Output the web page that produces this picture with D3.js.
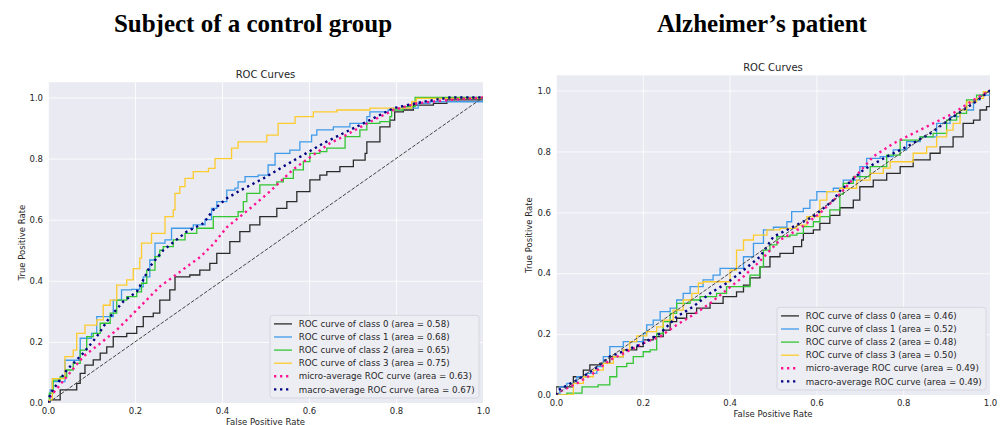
<!DOCTYPE html>
<html><head><meta charset="utf-8">
<script src="https://cdn.jsdelivr.net/npm/d3@7"></script>
<style>body{margin:0;background:#fff}svg{display:block}</style>
</head><body><svg id="c" width="1004" height="425"></svg>
<script>
// ---------- data ----------
const tickValues = [0, 0.2, 0.4, 0.6, 0.8, 1.0];
const tickLabels = ["0.0", "0.2", "0.4", "0.6", "0.8", "1.0"];
const seriesNames = ["ROC curve of class 0", "ROC curve of class 1", "ROC curve of class 2", "ROC curve of class 3", "micro-average ROC curve", "macro-average ROC curve"];
const seriesColors = ["#2b2b2b", "#3f9be9", "#33c633", "#fdcb2c", "#ff1493", "#000080"];
const aucControl = [0.58, 0.68, 0.65, 0.75, 0.63, 0.67];
const aucAlzheimer = [0.46, 0.52, 0.48, 0.50, 0.49, 0.49];

// Subject of a control group: [FPR, TPR]
const ctrlClass0 = [[0,0],[0.005,0.01],[0.028,0.043],[0.054,0.043],[0.066,0.064],[0.074,0.097],[0.085,0.124],[0.104,0.141],[0.12,0.163],[0.135,0.184],[0.15,0.217],[0.181,0.228],[0.204,0.25],[0.219,0.283],[0.242,0.294],[0.257,0.337],[0.28,0.37],[0.292,0.413],[0.326,0.419],[0.349,0.435],[0.372,0.457],[0.388,0.49],[0.418,0.528],[0.441,0.561],[0.464,0.583],[0.487,0.61],[0.526,0.637],[0.549,0.659],[0.572,0.692],[0.602,0.73],[0.625,0.746],[0.641,0.757],[0.671,0.774],[0.702,0.795],[0.729,0.817],[0.733,0.855],[0.748,0.855],[0.763,0.904],[0.786,0.926],[0.797,0.953],[0.817,0.959],[0.84,0.975],[0.886,0.981],[0.917,0.992],[1,1]];
const ctrlClass1 = [[0,0],[0.005,0.043],[0.01,0.07],[0.039,0.14],[0.074,0.212],[0.1,0.228],[0.112,0.283],[0.15,0.337],[0.169,0.37],[0.192,0.372],[0.211,0.38],[0.219,0.413],[0.234,0.468],[0.246,0.523],[0.269,0.534],[0.284,0.572],[0.319,0.572],[0.334,0.583],[0.361,0.6],[0.376,0.637],[0.388,0.659],[0.411,0.697],[0.43,0.703],[0.437,0.724],[0.453,0.741],[0.483,0.746],[0.506,0.779],[0.522,0.817],[0.556,0.828],[0.579,0.855],[0.606,0.877],[0.618,0.894],[0.656,0.904],[0.694,0.915],[0.733,0.937],[0.74,0.953],[0.782,0.959],[0.794,0.965],[0.851,0.981],[0.878,0.986],[1,1]];
const ctrlClass2 = [[0,0],[0.003,0.032],[0.012,0.075],[0.028,0.086],[0.043,0.108],[0.058,0.13],[0.074,0.173],[0.089,0.217],[0.104,0.228],[0.12,0.261],[0.143,0.294],[0.158,0.337],[0.181,0.348],[0.204,0.364],[0.215,0.392],[0.227,0.435],[0.246,0.479],[0.257,0.5],[0.265,0.512],[0.288,0.534],[0.315,0.555],[0.342,0.572],[0.372,0.572],[0.38,0.61],[0.426,0.61],[0.437,0.626],[0.449,0.659],[0.457,0.686],[0.48,0.686],[0.487,0.714],[0.526,0.724],[0.541,0.735],[0.564,0.763],[0.587,0.79],[0.602,0.817],[0.625,0.823],[0.641,0.834],[0.683,0.872],[0.717,0.894],[0.733,0.915],[0.763,0.921],[0.786,0.937],[0.79,0.959],[0.817,0.97],[0.844,1.0],[1,1]];
const ctrlClass3 = [[0,0],[0.003,0.01],[0.01,0.08],[0.03,0.08],[0.039,0.152],[0.05,0.152],[0.058,0.173],[0.066,0.228],[0.085,0.255],[0.104,0.255],[0.112,0.272],[0.127,0.32],[0.143,0.337],[0.158,0.386],[0.181,0.403],[0.196,0.44],[0.211,0.474],[0.215,0.523],[0.227,0.523],[0.238,0.555],[0.261,0.555],[0.269,0.61],[0.288,0.632],[0.292,0.686],[0.303,0.708],[0.315,0.735],[0.334,0.757],[0.369,0.768],[0.384,0.8],[0.415,0.8],[0.422,0.834],[0.437,0.855],[0.503,0.877],[0.529,0.915],[0.568,0.937],[0.61,0.953],[0.664,0.959],[0.74,0.965],[0.786,0.965],[0.836,0.986],[0.847,0.997],[1,1]];
const ctrlMicro = [[0,0],[0.005,0.02],[0.043,0.086],[0.081,0.152],[0.12,0.195],[0.158,0.239],[0.189,0.283],[0.219,0.326],[0.257,0.381],[0.288,0.413],[0.319,0.446],[0.35,0.478],[0.38,0.52],[0.411,0.575],[0.457,0.628],[0.51,0.692],[0.564,0.765],[0.61,0.812],[0.648,0.85],[0.679,0.872],[0.733,0.915],[0.794,0.959],[0.848,0.981],[0.924,0.992],[1,1]];
const ctrlMacro = [[0,0],[0.005,0.03],[0.043,0.108],[0.081,0.163],[0.112,0.217],[0.143,0.283],[0.173,0.332],[0.204,0.364],[0.219,0.403],[0.234,0.446],[0.25,0.474],[0.265,0.5],[0.319,0.561],[0.357,0.588],[0.38,0.632],[0.411,0.67],[0.441,0.695],[0.495,0.735],[0.541,0.774],[0.587,0.812],[0.633,0.85],[0.679,0.883],[0.733,0.921],[0.794,0.965],[0.863,0.986],[0.924,1],[1,1]];

// Alzheimer's patient: [FPR, TPR]
const alzClass0 = [[0,0],[0,0.027],[0.017,0.027],[0.04,0.06],[0.063,0.082],[0.078,0.099],[0.101,0.104],[0.124,0.126],[0.155,0.148],[0.186,0.159],[0.201,0.181],[0.224,0.192],[0.247,0.213],[0.263,0.241],[0.278,0.252],[0.301,0.268],[0.324,0.285],[0.355,0.301],[0.385,0.323],[0.416,0.339],[0.432,0.361],[0.447,0.385],[0.47,0.421],[0.493,0.454],[0.516,0.465],[0.547,0.487],[0.566,0.509],[0.57,0.531],[0.593,0.542],[0.608,0.564],[0.631,0.59],[0.654,0.615],[0.685,0.64],[0.7,0.684],[0.731,0.706],[0.762,0.728],[0.793,0.75],[0.823,0.772],[0.862,0.794],[0.885,0.815],[0.915,0.848],[0.938,0.892],[0.962,0.903],[0.977,0.936],[0.992,0.947],[1,0.99],[1,1]];
const alzClass1 = [[0,0],[0.009,0.027],[0.025,0.038],[0.048,0.06],[0.071,0.071],[0.094,0.093],[0.109,0.126],[0.124,0.159],[0.155,0.175],[0.186,0.175],[0.201,0.202],[0.209,0.23],[0.224,0.246],[0.24,0.274],[0.263,0.285],[0.278,0.312],[0.293,0.334],[0.309,0.356],[0.339,0.378],[0.362,0.394],[0.378,0.416],[0.401,0.416],[0.432,0.454],[0.455,0.498],[0.478,0.542],[0.501,0.551],[0.532,0.569],[0.543,0.602],[0.57,0.613],[0.585,0.64],[0.601,0.668],[0.639,0.679],[0.662,0.706],[0.7,0.75],[0.716,0.777],[0.747,0.783],[0.777,0.805],[0.808,0.832],[0.839,0.848],[0.877,0.892],[0.908,0.914],[0.931,0.936],[0.962,0.969],[0.977,0.985],[1,1]];
const alzClass2 = [[0,0],[0.025,0.006],[0.06,0.027],[0.097,0.033],[0.124,0.06],[0.14,0.093],[0.163,0.104],[0.178,0.126],[0.201,0.142],[0.217,0.148],[0.232,0.202],[0.247,0.241],[0.263,0.268],[0.278,0.301],[0.309,0.312],[0.332,0.323],[0.37,0.334],[0.393,0.356],[0.432,0.356],[0.447,0.394],[0.47,0.421],[0.478,0.476],[0.493,0.493],[0.509,0.52],[0.539,0.525],[0.555,0.531],[0.57,0.553],[0.593,0.569],[0.608,0.586],[0.631,0.608],[0.654,0.66],[0.662,0.695],[0.685,0.717],[0.724,0.75],[0.762,0.788],[0.793,0.837],[0.839,0.848],[0.869,0.859],[0.9,0.903],[0.923,0.925],[0.946,0.969],[0.969,0.985],[0.985,0.996],[1,1]];
const alzClass3 = [[0,0],[0.036,0],[0.04,0.038],[0.063,0.06],[0.086,0.082],[0.109,0.104],[0.132,0.126],[0.155,0.148],[0.17,0.175],[0.186,0.194],[0.209,0.208],[0.232,0.224],[0.247,0.246],[0.27,0.279],[0.293,0.312],[0.313,0.334],[0.328,0.367],[0.339,0.372],[0.385,0.372],[0.401,0.41],[0.416,0.476],[0.432,0.509],[0.455,0.525],[0.486,0.542],[0.516,0.547],[0.555,0.558],[0.578,0.586],[0.608,0.64],[0.624,0.668],[0.654,0.679],[0.693,0.706],[0.724,0.728],[0.754,0.745],[0.77,0.766],[0.808,0.766],[0.823,0.794],[0.854,0.815],[0.877,0.848],[0.9,0.87],[0.915,0.892],[0.931,0.936],[0.946,0.963],[0.969,0.974],[0.985,0.996],[1,1]];
const alzMicro = [[0,0],[0.009,0.011],[0.048,0.038],[0.086,0.071],[0.124,0.115],[0.163,0.142],[0.201,0.17],[0.24,0.192],[0.278,0.23],[0.316,0.263],[0.355,0.301],[0.393,0.345],[0.432,0.389],[0.47,0.44],[0.516,0.509],[0.562,0.547],[0.608,0.597],[0.654,0.66],[0.685,0.71],[0.731,0.783],[0.777,0.826],[0.823,0.859],[0.869,0.892],[0.915,0.925],[0.962,0.969],[1,1]];
const alzMacro = [[0,0],[0.005,0.016],[0.048,0.049],[0.086,0.082],[0.124,0.126],[0.163,0.148],[0.201,0.17],[0.24,0.202],[0.278,0.257],[0.316,0.29],[0.355,0.334],[0.393,0.367],[0.432,0.41],[0.47,0.454],[0.501,0.52],[0.547,0.553],[0.593,0.586],[0.639,0.64],[0.654,0.67],[0.708,0.739],[0.762,0.783],[0.808,0.815],[0.862,0.859],[0.915,0.914],[0.962,0.958],[1,1]];

const diagonal = [[0,0],[1,1]];

// ---------- drawing ----------
const svg = d3.select("#c");
const FONT = "DejaVu Sans, Liberation Sans, sans-serif";
const TXT = "#262626";

function panel(cfg) {
  const x = d3.scaleLinear().domain([0, 1]).range([cfg.left, cfg.right]);
  const y = d3.scaleLinear().domain([0, 1.05]).range([cfg.bottom, cfg.top]);
  const g = svg.append("g");
  const w = cfg.right - cfg.left, h = cfg.bottom - cfg.top;

  // super title
  svg.append("text").attr("x", cfg.headX).attr("y", 32).attr("text-anchor", "middle")
    .attr("font-family", "Liberation Serif, DejaVu Serif, serif").attr("font-weight", "bold")
    .attr("font-size", 25).attr("fill", "#000").text(cfg.head);

  g.append("rect").attr("x", cfg.left).attr("y", cfg.top).attr("width", w).attr("height", h).attr("fill", "#EAEAF2");

  const xAxis = d3.axisBottom(x).tickValues(tickValues).tickFormat((d, i) => tickLabels[i])
    .tickSizeInner(-h).tickSizeOuter(0).tickPadding(5);
  const yAxis = d3.axisLeft(y).tickValues(tickValues).tickFormat((d, i) => tickLabels[i])
    .tickSizeInner(-w).tickSizeOuter(0).tickPadding(5);
  const gx = g.append("g").attr("transform", `translate(0,${cfg.bottom})`).call(xAxis);
  const gy = g.append("g").attr("transform", `translate(${cfg.left},0)`).call(yAxis);
  [gx, gy].forEach(a => {
    a.select(".domain").remove();
    a.selectAll(".tick line").attr("stroke", "#fff").attr("stroke-width", 0.8);
    a.selectAll(".tick text").attr("fill", TXT).attr("font-size", 8.5).attr("font-family", FONT);
  });

  const clipId = "clip" + cfg.id;
  svg.append("clipPath").attr("id", clipId).append("rect")
    .attr("x", cfg.left).attr("y", cfg.top).attr("width", w).attr("height", h);
  const plot = g.append("g").attr("clip-path", `url(#${clipId})`);

  const stepLine = d3.line().x(d => x(d[0])).y(d => y(d[1])).curve(d3.curveStepAfter);
  const smoothLine = d3.line().x(d => x(d[0])).y(d => y(d[1]));

  cfg.series.forEach((s, i) => {
    const avg = i >= 4;
    plot.append("path").datum(s).attr("fill", "none")
      .attr("stroke", seriesColors[i])
      .attr("stroke-width", avg ? 2.4 : 1.3)
      .attr("stroke-dasharray", avg ? "2.3,3.7" : null)
      .attr("d", avg ? smoothLine(s) : stepLine(s));
  });
  plot.append("path").datum(diagonal).attr("fill", "none").attr("stroke", "#444")
    .attr("stroke-width", 1).attr("stroke-dasharray", "3.7,1.6").attr("d", smoothLine);

  // titles & labels
  g.append("text").attr("x", (cfg.left + cfg.right) / 2).attr("y", cfg.top - 4)
    .attr("text-anchor", "middle").attr("font-family", FONT).attr("font-size", 10).attr("fill", TXT).text("ROC Curves");
  g.append("text").attr("x", (cfg.left + cfg.right) / 2).attr("y", cfg.xLabelY)
    .attr("text-anchor", "middle").attr("font-family", FONT).attr("font-size", 8.5).attr("fill", TXT).text("False Positive Rate");
  g.append("text").attr("transform", `translate(${cfg.yLabelX},${(cfg.top + cfg.bottom) / 2}) rotate(-90)`)
    .attr("text-anchor", "middle").attr("font-family", FONT).attr("font-size", 8.5).attr("fill", TXT).text("True Positive Rate");

  // legend
  const labels = seriesNames.map((n, i) => `${n} (area = ${cfg.auc[i].toFixed(2)})`);
  const lg = g.append("g");
  const box = lg.append("rect").attr("rx", 2.5).attr("fill", "#EDEDF4").attr("stroke", "#d2d2da").attr("stroke-width", 0.8);
  const rowH = 13.1;
  let maxW = 0;
  const texts = labels.map((t, i) => {
    const tx = lg.append("text").attr("font-family", FONT).attr("font-size", 8.7).attr("fill", TXT).text(t);
    maxW = Math.max(maxW, tx.node().getComputedTextLength());
    return tx;
  });
  const bw = maxW + 33, bh = rowH * 6 + 4;
  const bx = cfg.right - 4 - bw, by = cfg.bottom - 5 - bh;
  box.attr("x", bx).attr("y", by).attr("width", bw).attr("height", bh);
  texts.forEach((tx, i) => {
    const cy = by + 8.5 + i * rowH;
    tx.attr("x", bx + 28.7).attr("y", cy + 3.1);
    const avg = i >= 4;
    lg.append("line").attr("x1", bx + 4).attr("x2", bx + 22).attr("y1", cy).attr("y2", cy)
      .attr("stroke", seriesColors[i]).attr("stroke-width", avg ? 2.4 : 1.3)
      .attr("stroke-dasharray", avg ? "2.3,3.7" : null);
  });
}

panel({id: "L", head: "Subject of a control group", headX: 253,
  left: 48, right: 483, bottom: 403, top: 82.2, xLabelY: 424.5, yLabelX: 25,
  series: [ctrlClass0, ctrlClass1, ctrlClass2, ctrlClass3, ctrlMicro, ctrlMacro], auc: aucControl});
panel({id: "R", head: "Alzheimer’s patient", headX: 762,
  left: 556, right: 990, bottom: 395, top: 75.3, xLabelY: 417, yLabelX: 532,
  series: [alzClass0, alzClass1, alzClass2, alzClass3, alzMicro, alzMacro], auc: aucAlzheimer});
</script>
</body></html>
